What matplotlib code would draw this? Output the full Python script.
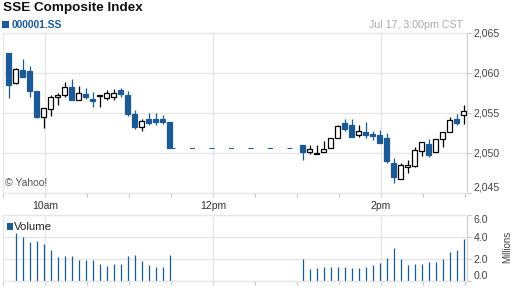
import numpy as np
import matplotlib.pyplot as plt
from matplotlib.patches import Rectangle
from matplotlib.ticker import MultipleLocator

plt.rcParams['font.family'] = ['Liberation Sans', 'DejaVu Sans']

BLUE = '#1c5a96'

# 5-minute candles, morning 9:30-11:30 and afternoon 13:00-15:00
am_open = [2062.5, 2058.8, 2060.4, 2060.2, 2057.7, 2054.45, 2055.5, 2057.0, 2057.2, 2058.25, 2056.6, 2057.4,
           2056.8, 2057.1, 2056.9, 2056.95, 2057.9, 2057.3, 2054.9, 2053.3, 2054.2, 2054.2, 2054.2, 2053.9]
am_high = [2062.5, 2060.6, 2061.7, 2060.9, 2057.7, 2055.6, 2057.2, 2057.5, 2058.9, 2059.25, 2058.4, 2058.1,
           2057.6, 2057.25, 2057.9, 2058.0, 2058.1, 2057.7, 2055.4, 2054.3, 2055.0, 2055.0, 2054.7, 2053.9]
am_low = [2056.9, 2058.6, 2059.5, 2057.0, 2054.4, 2053.1, 2054.6, 2056.0, 2057.0, 2056.6, 2056.6, 2056.8,
          2055.7, 2055.7, 2056.6, 2056.6, 2056.95, 2054.6, 2053.0, 2052.8, 2053.45, 2053.5, 2053.6, 2050.6]
am_close = [2058.45, 2060.5, 2059.5, 2057.7, 2054.45, 2055.6, 2057.0, 2057.3, 2058.25, 2056.6, 2057.5, 2057.0,
            2056.45, 2057.25, 2057.5, 2057.5, 2057.4, 2054.9, 2053.3, 2054.0, 2053.8, 2053.9, 2053.9, 2050.65]

pm_open = [2051.04, 2050.1, 2049.9, 2050.1, 2050.6, 2051.9, 2053.75, 2053.5, 2052.3, 2052.6, 2052.4, 2052.3,
           2051.9, 2048.8, 2046.7, 2048.25, 2048.4, 2050.2, 2051.1, 2050.1, 2051.75, 2052.6, 2054.2, 2054.7]
pm_high = [2051.04, 2051.0, 2051.0, 2051.45, 2051.9, 2053.5, 2054.2, 2054.2, 2053.5, 2053.9, 2052.7, 2052.9,
           2052.5, 2049.4, 2048.7, 2049.1, 2050.75, 2051.4, 2051.8, 2051.8, 2052.6, 2054.5, 2054.9, 2056.0]
pm_low = [2049.1, 2049.9, 2049.85, 2050.1, 2050.6, 2051.9, 2052.8, 2051.95, 2051.95, 2051.9, 2051.65, 2051.25,
          2048.8, 2046.3, 2046.7, 2047.5, 2048.25, 2049.65, 2049.45, 2050.1, 2050.7, 2052.6, 2053.5, 2053.6]
pm_close = [2050.1, 2050.5, 2050.05, 2050.5, 2051.9, 2053.4, 2053.0, 2051.95, 2052.7, 2052.2, 2052.1, 2051.25,
            2049.0, 2047.0, 2048.5, 2048.5, 2050.4, 2051.4, 2049.7, 2051.8, 2052.6, 2054.1, 2053.75, 2055.3]

# volume in millions (first bar of the day not shown)
am_vol = [np.nan, 4.34, 3.97, 3.53, 3.6, 3.35, 2.85, 2.2, 2.3, 2.3, 1.95, 1.92, 1.92,
          1.55, 1.36, 1.55, 1.55, 2.3, 2.4, 1.83, 1.46, 1.27, 1.27, 2.4]
pm_vol = [2.0, 1.08, 1.18, 1.27, 1.27, 1.27, 1.27, 1.18, 1.18, 1.27, 1.46, 1.64,
          2.1, 3.04, 2.0, 1.46, 1.55, 1.55, 1.74, 1.74, 2.0, 2.67, 2.85, 3.78]

price_ticks = [2045, 2050, 2055, 2060, 2065]
vol_ticks = [0, 2, 4, 6]
time_ticks = [30, 150, 270]          # minutes since 9:30
time_labels = ['10am', '12pm', '2pm']

# x in minutes since 9:30, lunch break kept on the axis
am_x = np.arange(24) * 5 + 4.0
pm_x = 210 + np.arange(24) * 5 + 4.0
x = np.concatenate([am_x, pm_x])
o = np.array(am_open + pm_open)
h = np.array(am_high + pm_high)
l = np.array(am_low + pm_low)
c = np.array(am_close + pm_close)
vol = np.array(am_vol + pm_vol)

fig = plt.figure(figsize=(5.12, 2.88), dpi=100)
ax = fig.add_axes([3/512, 1-193/288, 464/512, 160/288])
vax = fig.add_axes([3/512, 1-281/288, 464/512, 66/288])

GRID = '#e6e6e6'
for a in (ax, vax):
    a.set_xlim(0, 331.5)
    a.set_xticks(time_ticks)
    a.xaxis.set_minor_locator(MultipleLocator(30))
    a.grid(True, color=GRID, lw=0.9, zorder=0)
    a.set_axisbelow(True)
    for s in ('top', 'left', 'bottom'):
        a.spines[s].set_color(GRID)
        a.spines[s].set_linewidth(0.9)
    a.spines['right'].set_color('#d0d0d0')
    a.spines['right'].set_linewidth(0.9)
    a.yaxis.tick_right()
    a.tick_params(axis='both', which='both', color='#c8c8c8', length=3, width=0.8)
    a.tick_params(axis='y', labelsize=7.6, labelcolor='#444', pad=2)

# candles
up = c >= o
ax.vlines(x[up], l[up], h[up], color='black', lw=0.9, zorder=2)
ax.vlines(x[~up], l[~up], h[~up], color=BLUE, lw=0.9, zorder=2)
lo = np.minimum(o, c)
ht = np.maximum(np.abs(c - o), 0.12)
ax.bar(x[up], ht[up], 3.0, lo[up], facecolor='white', edgecolor='black', lw=0.9, zorder=3)
ax.bar(x[~up], ht[~up], 3.0, lo[~up], facecolor=BLUE, edgecolor=BLUE, lw=0.9, zorder=3)

# lunch break: previous close carried forward
ax.plot([am_x[-1], pm_x[0]], [am_close[-1], am_close[-1]], color=BLUE, lw=0.72,
        linestyle=(0, (5, 14.5)), zorder=1)

ax.set_ylim(price_ticks[0], price_ticks[-1])
ax.set_yticks(price_ticks, labels=[f'{t:,}' for t in price_ticks])
ax.set_xticklabels(time_labels)
ax.tick_params(axis='x', labelsize=7.5, labelcolor='#333', pad=3)
ticks = ax.yaxis.get_major_ticks()
ticks[0].label2.set_va('bottom')

# volume
vax.vlines(x, 0, vol, color=BLUE, lw=0.9)
vax.set_ylim(0, 6)
vax.set_yticks(vol_ticks, labels=[f'{t:.1f}' for t in vol_ticks])
vax.tick_params(axis='x', labelbottom=False)
vt = vax.yaxis.get_major_ticks()
vt[0].label2.set_va('bottom')
vt[-1].label2.set_va('top')

# header and labels
fig.text(3/512, 1-8/288, 'SSE Composite Index', fontsize=9.7, fontweight='bold', color='#111', va='center')
fig.add_artist(Rectangle((2/512, 1-28/288), 7/512, 7/288, transform=fig.transFigure, color=BLUE, lw=0))
fig.text(12/512, 1-24.5/288, '000001.SS', fontsize=7.4, fontweight='bold', color=BLUE, va='center')
fig.text(463/512, 1-25/288, 'Jul 17, 3:00pm CST', fontsize=7.7, color='#aaaaaa', va='center', ha='right')
fig.text(5/512, 1-183/288, '\u00a9 Yahoo!', fontsize=7.5, color='#555', va='center')
fig.add_artist(Rectangle((7/512, 1-229.5/288), 5.5/512, 6.5/288, transform=fig.transFigure, color=BLUE, lw=0))
fig.text(14/512, 1-227/288, 'Volume', fontsize=8.2, color='#222', va='center')
fig.text(507/512, 1-247/288, 'Millions', fontsize=7, color='#444', va='center', ha='center', rotation=90)

fig.savefig('out.png', dpi=100)
